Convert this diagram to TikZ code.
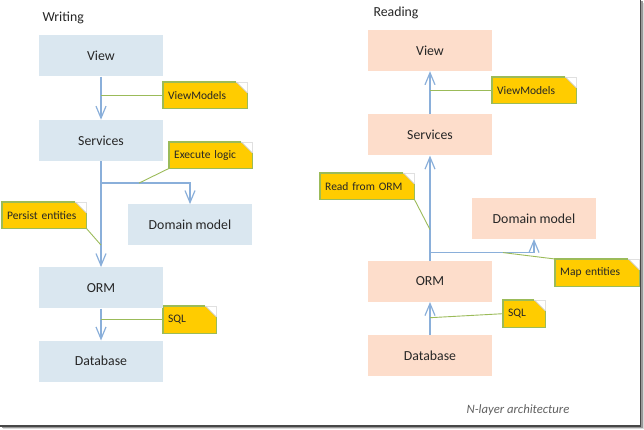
\documentclass[tikz,border=0pt]{standalone}
\usepackage{fontspec}
\setmainfont{Carlito}
\usetikzlibrary{positioning, arrows.meta, backgrounds}

\definecolor{writefill}{HTML}{DAE7F0}
\definecolor{readfill}{HTML}{FDDDCB}
\definecolor{flowblue}{HTML}{8AAFDA}
\definecolor{notegreen}{HTML}{9BBB59}
\definecolor{noteyellow}{HTML}{FFCC00}
\definecolor{textgray}{HTML}{262626}

\begin{document}
\begin{tikzpicture}[
    x=1pt, y=-1pt,
    node distance=43pt,
    layer/.style={minimum width=124pt, minimum height=41pt, inner sep=0pt,
        font=\fontsize{13.8}{16}\selectfont, text=textgray},
    writing/.style={layer, fill=writefill},
    reading/.style={layer, fill=readfill},
    note/.style={anchor=north west, inner xsep=5pt, inner ysep=0pt,
        minimum height=26pt, align=left,
        font=\fontsize{11.5}{13}\selectfont, text=textgray},
    flow/.style={draw=flowblue, line width=1.2pt,
        -{Straight Barb[length=12pt, width=10pt]}},
    link/.style={draw=notegreen, line width=0.9pt},
]
    \useasboundingbox (0,0) rectangle (644,430);

    % titles
    \node[anchor=west, font=\fontsize{13.8}{16}\selectfont, text=textgray] (writingT) at (39,18) {Writing};
    \node[anchor=west, font=\fontsize{13.8}{16}\selectfont, text=textgray] (readingT) at (370,13) {Reading};
    \node[font=\itshape\fontsize{12.7}{15}\selectfont, text=black!62] (capT) at (518,410) {N-layer architecture};

    % writing side
    \node[writing] (viewW) at (101,56) {View};
    \node[writing, below=of viewW] (servW) {Services};
    \node[writing, below=43pt of servW, xshift=89pt] (domW) {Domain model};
    \node[writing, below=106pt of servW] (ormW) {ORM};
    \node[writing, below=32pt of ormW] (dbW) {Database};

    % reading side
    \node[reading] (viewR) at (430,50.5) {View};
    \node[reading, below=of viewR] (servR) {Services};
    \node[reading, below=42pt of servR, xshift=104pt] (domR) {Domain model};
    \node[reading, below=105pt of servR] (ormR) {ORM};
    \node[reading, below=33pt of ormR] (dbR) {Database};

    % notes
    \node[note, text width=74pt] (vmW) at (163,82) {ViewModels};
    \node[note, text width=73pt] (elW) at (169,142) {Execute logic};
    \node[note, text width=74pt] (peW) at (2,202) {Persist entities};
    \node[note, text width=43pt, minimum height=27pt] (sqlW) at (163,306) {SQL};
    \node[note, text width=74pt] (vmR) at (492,77) {ViewModels};
    \node[note, text width=84pt] (rfR) at (320,173) {Read from ORM};
    \node[note, text width=74pt, minimum height=27pt] (meR) at (555,259) {Map entities};
    \node[note, text width=32pt, minimum height=27pt] (sqlR) at (503,300) {SQL};

    \begin{scope}[on background layer]
        \foreach \n in {vmW,elW,peW,sqlW,vmR,rfR,meR,sqlR} {
            \fill[noteyellow] (\n.south west) -- (\n.north west) -- ([xshift=-11pt]\n.north east)
                -- ([yshift=-11pt]\n.north east) -- (\n.south east) -- cycle;
            \draw[black!12, line width=0.6pt] ([xshift=-11pt]\n.north east) -- (\n.north east) -- ([yshift=-11pt]\n.north east);
            \draw[notegreen, line width=1.1pt] ([xshift=-11pt]\n.north east) -- (\n.north west)
                -- (\n.south west) -- (\n.south east) -- ([yshift=-11pt]\n.north east);
            \draw[black!20, line width=0.7pt] ([xshift=-11pt]\n.north east) -- ([yshift=-11pt]\n.north east);
        }
    \end{scope}

    \coordinate (brW) at ([yshift=-22pt]servW.south);
    \coordinate (brR) at ([yshift=8pt]ormR.north);

    % writing connectors
    \draw[flow] (viewW) -- (servW);
    \draw[link] (vmW.west -| viewW) -- (vmW.west);
    \draw[flow] (servW) -- (ormW);
    \draw[flow] (brW) -| (domW.north);
    \draw[link] ([xshift=38pt]brW) -- (elW.south west);
    \draw[link] (peW.south east) -- ([yshift=-84pt]servW.south);
    \draw[flow] (ormW) -- (dbW);
    \draw[link] (sqlW.west -| ormW) -- (sqlW.west);

    % reading connectors
    \draw[flow] (servR) -- (viewR);
    \draw[link] (vmR.west -| viewR) -- (vmR.west);
    \draw[flow] (ormR) -- (servR);
    \draw[flow] (brR) -| (domR.south);
    \draw[link] ([xshift=73pt]brR) -- (meR.north west);
    \draw[link] (rfR.south east) -- ([yshift=31pt]ormR.north);
    \draw[flow] (dbR) -- (ormR);
    \draw[link] ([yshift=-4pt]sqlR.west -| dbR) -- (sqlR.west);

    % frame shadow
    \draw[black!15, line width=1.5pt] (643.3,3) -- (643.3,428.7) -- (3,428.7);
    \draw[black!40, line width=1.5pt] (642,1.5) -- (642,427.2) -- (1.5,427.2);
    \draw[black!72, line width=1.5pt] (640.6,0) -- (640.6,425.8) -- (0,425.8);
\end{tikzpicture}
\end{document}
